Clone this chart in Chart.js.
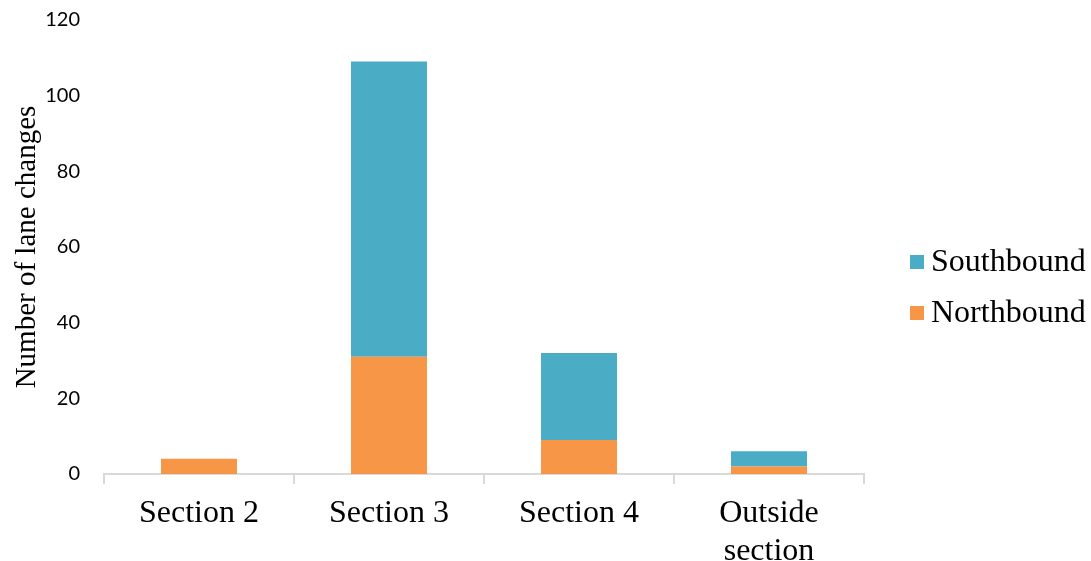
<!DOCTYPE html>
<html>
<head>
<meta charset="utf-8">
<script src="https://cdn.jsdelivr.net/npm/chart.js@4/dist/chart.umd.min.js"></script>
<style>
  html, body { margin: 0; padding: 0; background: #fff; }
  #wrap { width: 1091px; height: 561px; position: relative; }
</style>
</head>
<body>
<div id="wrap"><canvas id="c" width="1091" height="561"></canvas></div>
<script>
// Lane changes per section, split by direction of travel
const categories = [["Section 2"], ["Section 3"], ["Section 4"], ["Outside", "section"]];
const northbound = [4, 31, 9, 2];
const southbound = [0, 78, 23, 4];
const yTicks = [0, 20, 40, 60, 80, 100, 120];

const serif = "'Liberation Serif', 'Times New Roman', serif";
const sans = "Lato, 'Open Sans', sans-serif";

// Legend drawn on the canvas at the right of the plot, top entry = top of stack
const sideLegend = {
  id: 'sideLegend',
  afterDraw(chart) {
    const ctx = chart.ctx;
    const items = chart.data.datasets.slice().reverse();
    const x0 = 910, y0 = 262, step = 51, box = 14;
    ctx.save();
    ctx.font = "32px " + serif;
    ctx.textBaseline = 'middle';
    ctx.textAlign = 'left';
    items.forEach((ds, i) => {
      const y = y0 + i * step;
      ctx.fillStyle = ds.backgroundColor;
      ctx.fillRect(x0, y - box / 2, box, box);
      ctx.fillStyle = '#000';
      ctx.fillText(ds.label, x0 + 21, y + 1);
    });
    ctx.restore();
  }
};

new Chart(document.getElementById('c'), {
  type: 'bar',
  data: {
    labels: categories,
    datasets: [
      { label: 'Northbound', data: northbound, backgroundColor: '#F79646', borderWidth: 0 },
      { label: 'Southbound', data: southbound, backgroundColor: '#4BACC6', borderWidth: 0 }
    ]
  },
  options: {
    responsive: false,
    animation: false,
    layout: { padding: { top: 20, right: 227, left: 0, bottom: 0 } },
    plugins: { legend: { display: false }, tooltip: { enabled: false } },
    datasets: { bar: { barPercentage: 0.4, categoryPercentage: 1.0 } },
    scales: {
      x: {
        stacked: true,
        offset: true,
        grid: { offset: true, drawOnChartArea: false, drawTicks: true, tickLength: 10, color: '#d9d9d9', lineWidth: 2 },
        border: { display: true, color: '#d9d9d9', width: 2 },
        ticks: { color: '#000', font: { family: serif, size: 32 }, padding: 10, maxRotation: 0, autoSkip: false },
        afterFit(s) { s.height = 87; s.paddingTop = 0; }
      },
      y: {
        stacked: true,
        min: 0, max: 120,
        afterBuildTicks(s) { s.ticks = yTicks.map(v => ({ value: v })); },
        grid: { display: false, drawTicks: false },
        border: { display: false },
        ticks: { color: '#000', font: { family: sans, size: 20 }, padding: 24 },
        title: { display: true, text: 'Number of lane changes', color: '#000', font: { family: serif, size: 29 }, padding: { top: 10, bottom: 0 } },
        afterFit(s) { s.width = 104; s.paddingTop = 0; s.paddingBottom = 0; }
      }
    }
  },
  plugins: [sideLegend]
});
</script>
</body>
</html>
